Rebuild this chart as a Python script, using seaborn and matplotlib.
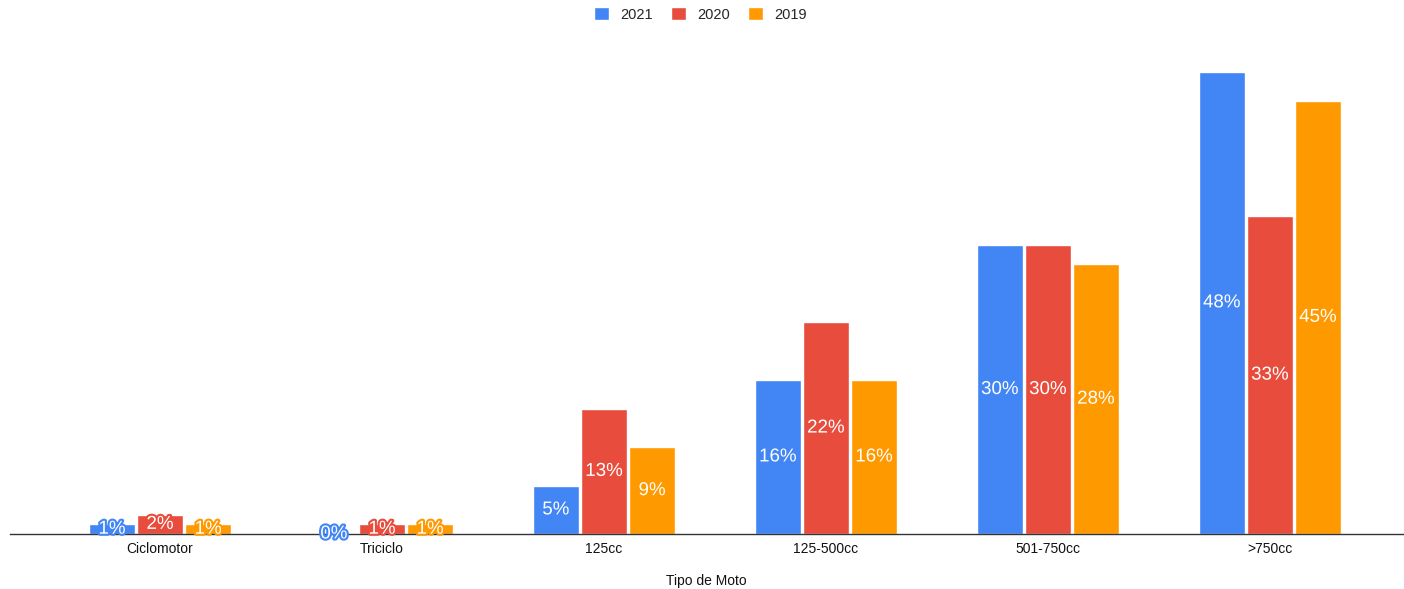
import pandas as pd
import seaborn as sns
import matplotlib.pyplot as plt
import matplotlib.patheffects as pe

# Chart data
categories = ['Ciclomotor', 'Triciclo', '125cc', '125-500cc', '501-750cc', '>750cc']
years = ['2021', '2020', '2019']
vals_2021 = [1, 0, 5, 16, 30, 48]
vals_2020 = [2, 1, 13, 22, 30, 33]
vals_2019 = [1, 1, 9, 16, 28, 45]
colors = ['#4285F4', '#E84C3D', '#FF9900']

# Long format for seaborn
data = pd.DataFrame({
    'Tipo de Moto': categories * 3,
    'Año': [y for y in years for _ in categories],
    'Valor': vals_2021 + vals_2020 + vals_2019,
})

sns.set_style('white')
plt.rcParams['font.family'] = ['Liberation Sans', 'DejaVu Sans']

fig = plt.figure(figsize=(14.04, 5.89), dpi=100)
ax = fig.add_axes([10 / 1404, 55 / 589, 1393 / 1404, 484 / 589])

sns.barplot(data=data, x='Tipo de Moto', y='Valor', hue='Año', hue_order=years,
            palette=colors, width=0.65, gap=0.045, saturation=1, ax=ax)

ax.set_xlim(-0.676, 5.60)
ax.set_ylim(0, 50.26)

# Value labels inside the bars (outlined in bar colour for tiny bars)
for cont, col in zip(ax.containers, colors):
    ax.bar_label(cont, labels=[f'{b.get_height():.0f}%' for b in cont],
                 label_type='center', color='white', fontsize=13.5,
                 path_effects=[pe.withStroke(linewidth=3, foreground=col)])

sns.despine(ax=ax, left=True, top=True, right=True)
ax.spines['bottom'].set_color('#333333')
ax.spines['bottom'].set_linewidth(1)
ax.set_yticks([])
ax.set_ylabel('')
ax.tick_params(axis='x', length=0, labelsize=10, colors='#111111', pad=6)
ax.set_xlabel('Tipo de Moto', fontsize=10, color='#111111', labelpad=13)

ax.legend(loc='upper center', bbox_to_anchor=(0.499, 1.01), bbox_transform=fig.transFigure,
          ncol=3, frameon=False, fontsize=10.5, handlelength=1.0, handleheight=1.0,
          columnspacing=1.25, handletextpad=0.8)

plt.savefig('out.png', dpi=100)
